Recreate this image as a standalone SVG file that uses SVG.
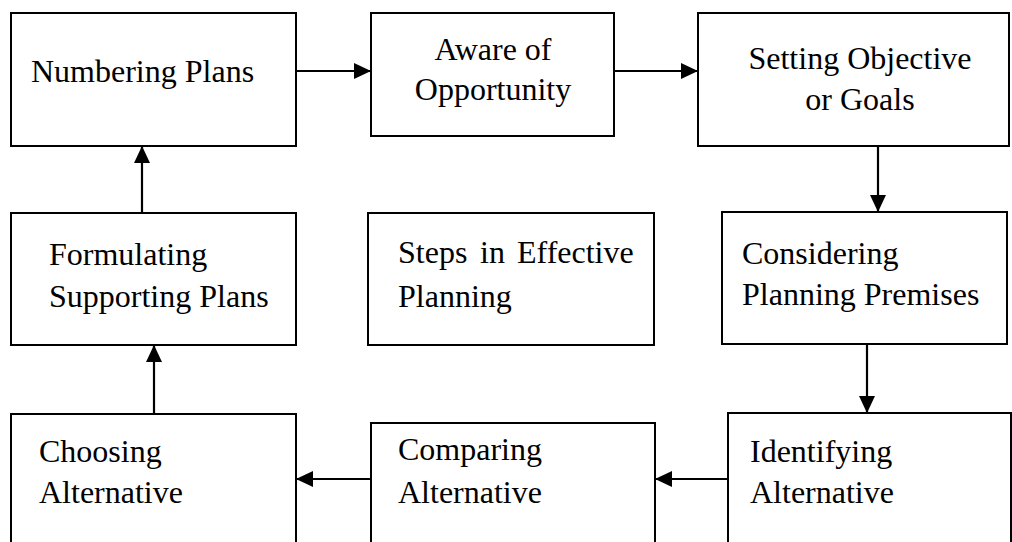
<svg xmlns="http://www.w3.org/2000/svg" width="1012" height="542" viewBox="0 0 1012 542">
<style>
.box{fill:#fff;stroke:#000;stroke-width:2}
.t{font-family:'Liberation Serif','DejaVu Serif',serif;font-size:32px;fill:#000}
.c{text-anchor:middle}
.conn line{stroke:#000;stroke-width:2.2;marker-end:url(#ah)}
</style>
<defs>
<marker id="ah" markerUnits="userSpaceOnUse" markerWidth="17" markerHeight="16" refX="17" refY="8" orient="auto">
<path d="M0,0 L17,8 L0,16 Z" fill="#000"/>
</marker>
</defs>
<rect width="1012" height="542" fill="#fff"/>
<g id="n1"><rect class="box" x="11" y="13" width="285" height="133"/><text class="t" x="31" y="82">Numbering Plans</text></g>
<g id="n2"><rect class="box" x="371" y="13" width="243" height="123"/><text class="t c" x="493" y="60">Aware of</text><text class="t c" x="493" y="100">Opportunity</text></g>
<g id="n3"><rect class="box" x="698" y="13" width="311" height="133"/><text class="t c" x="860" y="69">Setting Objective</text><text class="t c" x="860" y="110">or Goals</text></g>
<g id="n4"><rect class="box" x="722" y="212" width="285" height="132"/><text class="t" x="742" y="264">Considering</text><text class="t" x="742" y="305">Planning Premises</text></g>
<g id="n5"><rect class="box" x="728" y="413" width="283" height="160"/><text class="t" x="750" y="462">Identifying</text><text class="t" x="750" y="503">Alternative</text></g>
<g id="n6"><rect class="box" x="371" y="423" width="284" height="150"/><text class="t" x="398" y="460">Comparing</text><text class="t" x="398" y="503">Alternative</text></g>
<g id="n7"><rect class="box" x="11" y="414" width="285" height="160"/><text class="t" x="39" y="462">Choosing</text><text class="t" x="39" y="503">Alternative</text></g>
<g id="n8"><rect class="box" x="11" y="213" width="285" height="132"/><text class="t" x="49" y="265">Formulating</text><text class="t" x="49" y="307">Supporting Plans</text></g>
<g id="n9"><rect class="box" x="368" y="213" width="286" height="132"/><text class="t" y="263"><tspan x="398">Steps</tspan><tspan x="480">in</tspan><tspan x="517">Effective</tspan></text><text class="t" x="398" y="307">Planning</text></g>
<g id="connectors" class="conn">
<line x1="296" y1="71" x2="371" y2="71"/>
<line x1="614" y1="71" x2="698" y2="71"/>
<line x1="878" y1="146" x2="878" y2="212"/>
<line x1="867" y1="344" x2="867" y2="413"/>
<line x1="728" y1="479" x2="655" y2="479"/>
<line x1="371" y1="479" x2="296" y2="479"/>
<line x1="154" y1="414" x2="154" y2="345"/>
<line x1="142" y1="213" x2="142" y2="146"/>
</g>
</svg>
